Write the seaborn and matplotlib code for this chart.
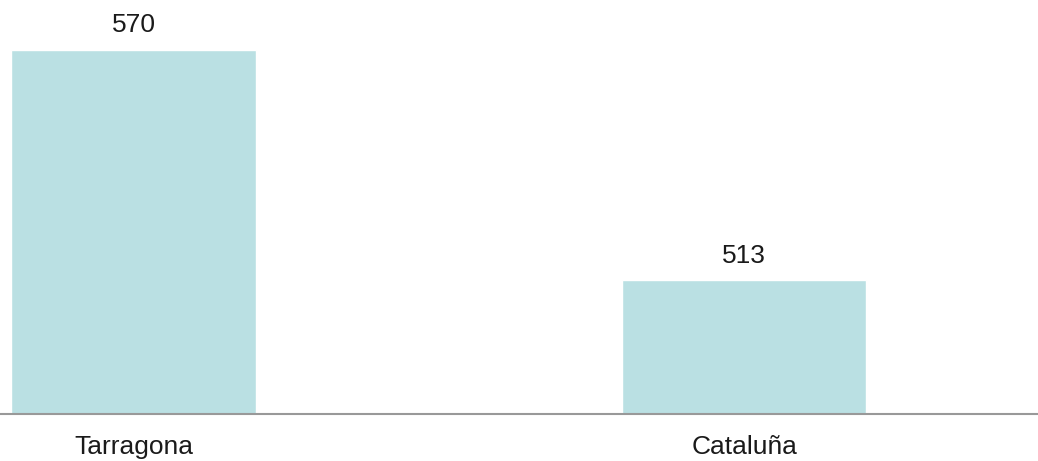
import pandas as pd
import matplotlib.pyplot as plt
import seaborn as sns

# Datos del gráfico
categorias = ['Tarragona', 'Cataluña']
valores = [570, 513]

sns.set_style("white")
plt.rcParams['font.family'] = ['Liberation Sans', 'DejaVu Sans']

df = pd.DataFrame({'zona': categorias, 'valor': valores})

fig = plt.figure(figsize=(10.38, 4.61), dpi=100)
ax = fig.add_axes([0, (461 - 413.7) / 461, 1, 413.7 / 461])

sns.barplot(data=df, x='zona', y='valor', ax=ax, color='#bae0e3',
            saturation=1, width=0.4)

ax.set_ylim(480, 582.3)
ax.set_xlim(-0.2186, 1.4808)

# Etiquetas encima de cada barra
for i, v in enumerate(valores):
    ax.annotate(str(v), xy=(i, v), xytext=(0, 12.5), textcoords='offset points',
                ha='center', va='baseline', fontsize=19, color='#1a1a1a')

for lado in ['top', 'right', 'left']:
    ax.spines[lado].set_visible(False)
ax.spines['bottom'].set_color('#999999')
ax.spines['bottom'].set_linewidth(1.5)

ax.set_yticks([])
ax.set_xlabel('')
ax.set_ylabel('')
ax.tick_params(axis='x', length=0, pad=15, labelsize=19, labelcolor='#1a1a1a')

plt.savefig('out.png', dpi=100)
plt.close()
